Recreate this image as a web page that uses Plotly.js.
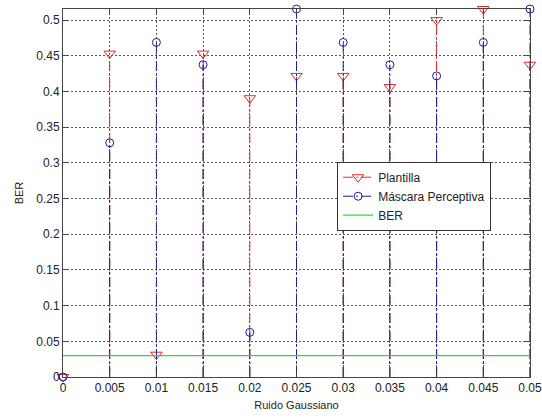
<!DOCTYPE html>
<html>
<head>
<meta charset="utf-8">
<script src="https://cdn.plot.ly/plotly-3.0.1.min.js"></script>
<style>html,body{margin:0;padding:0;background:#fff;overflow:hidden;}#chart{width:542px;height:419px;}</style>
</head>
<body>
<div id="chart"></div>
<script>
const ruido = [0, 0.005, 0.01, 0.015, 0.02, 0.025, 0.03, 0.035, 0.04, 0.045, 0.05];
const plantilla = [0, 0.453125, 0.03125, 0.453125, 0.390625, 0.421875, 0.421875, 0.40625, 0.5, 0.515625, 0.4375];
const mascara = [0, 0.328125, 0.46875, 0.4375, 0.0625, 0.515625, 0.46875, 0.4375, 0.421875, 0.46875, 0.515625];
const berLevel = 0.03;
const xTickVals = [0, 0.005, 0.01, 0.015, 0.02, 0.025, 0.03, 0.035, 0.04, 0.045, 0.05];
const xTickText = ['0', '0.005', '0.01', '0.015', '0.02', '0.025', '0.03', '0.035', '0.04', '0.045', '0.05'];
const yTickVals = [0, 0.05, 0.1, 0.15, 0.2, 0.25, 0.3, 0.35, 0.4, 0.45, 0.5];
const yTickText = ['0', '0.05', '0.1', '0.15', '0.2', '0.25', '0.3', '0.35', '0.4', '0.45', '0.5'];

const RED = '#e02828';
const BLUE = '#1c1ca0';
const GREEN = '#2edc2e';

function stems(xs, ys) {
  const sx = [], sy = [];
  xs.forEach((x, i) => { sx.push(x, x, null); sy.push(0, ys[i], null); });
  return {x: sx, y: sy};
}
const sp = stems(ruido, plantilla);
const sm = stems(ruido, mascara);

const traces = [
  {x: sp.x, y: sp.y, mode: 'lines', line: {color: RED, width: 1, dash: '10px,3px,2px,3px'}, showlegend: false, hoverinfo: 'skip'},
  {x: ruido, y: plantilla, mode: 'markers', marker: {symbol: 'triangle-down-open', size: 10, color: RED, line: {width: 1}}, showlegend: false, cliponaxis: false},
  {x: sm.x, y: sm.y, mode: 'lines', line: {color: BLUE, width: 1, dash: '10px,3px,2px,3px'}, showlegend: false, hoverinfo: 'skip'},
  {x: ruido, y: mascara, mode: 'markers', marker: {symbol: 'circle-open', size: 8, color: BLUE, line: {width: 1}}, showlegend: false, cliponaxis: false},
  {x: [ruido[0], ruido[ruido.length - 1]], y: [berLevel, berLevel], mode: 'lines', line: {color: GREEN, width: 1.2}, showlegend: false},
  // legend entries
  {x: [null], y: [null], mode: 'lines+markers', name: 'Plantilla', line: {color: RED, width: 1, dash: '10px,3px,2px,3px'}, marker: {symbol: 'triangle-down-open', size: 10, color: RED}},
  {x: [null], y: [null], mode: 'lines+markers', name: 'Máscara Perceptiva', line: {color: BLUE, width: 1, dash: '10px,3px,2px,3px'}, marker: {symbol: 'circle-open', size: 8, color: BLUE}},
  {x: [null], y: [null], mode: 'lines', name: 'BER', line: {color: GREEN, width: 1.2}}
];

const axisCommon = {
  showline: true, mirror: 'ticks', linecolor: '#444', linewidth: 1,
  ticks: 'inside', ticklen: 5, tickcolor: '#444',
  showgrid: true, gridcolor: '#555', griddash: '2px,2px', gridwidth: 1,
  zeroline: false, tickfont: {family: 'Liberation Sans, Arial, sans-serif', size: 12, color: '#222'},
  ticklabeloverflow: 'allow',
  fixedrange: true
};

const layout = {
  width: 542, height: 419,
  margin: {l: 63, r: 12, t: 9, b: 42},
  paper_bgcolor: '#fff', plot_bgcolor: '#fff',
  font: {family: 'Liberation Sans, Arial, sans-serif', size: 12, color: '#222'},
  xaxis: Object.assign({}, axisCommon, {
    range: [0, 0.05], tickmode: 'array', tickvals: xTickVals, ticktext: xTickText,
    title: {text: 'Ruido Gaussiano', standoff: 6, font: {size: 11}}
  }),
  yaxis: Object.assign({}, axisCommon, {
    range: [0, 0.515625], tickmode: 'array', tickvals: yTickVals, ticktext: yTickText,
    title: {text: 'BER', standoff: 10, font: {size: 11}}
  }),
  legend: {
    x: 0.587, y: 0.585, xanchor: 'left', yanchor: 'top',
    bgcolor: '#fff', bordercolor: '#333', borderwidth: 1,
    font: {size: 12, color: '#222'}, itemwidth: 30
  },
  showlegend: true
};

Plotly.newPlot('chart', traces, layout, {staticPlot: true, displayModeBar: false});
</script>
</body>
</html>
